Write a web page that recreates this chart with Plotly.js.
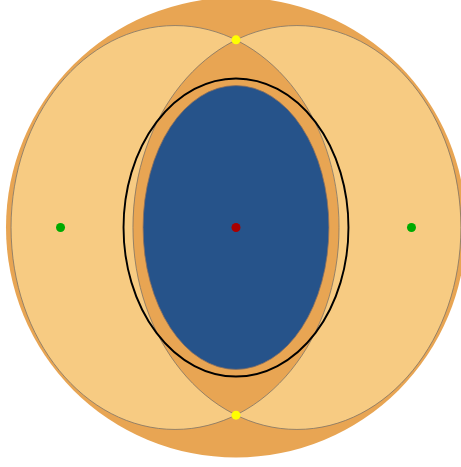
<!DOCTYPE html>
<html>
<head>
<meta charset="utf-8">
<script src="https://cdn.plot.ly/plotly-3.0.1.min.js"></script>
<style>html,body{margin:0;padding:0;background:#fff;}#chart{width:461px;height:467px;}</style>
</head>
<body>
<div id="chart"></div>
<script>
// Geometry readings (units: big circle radius = 1, origin at centre)
var outerCircle = {cx: 0, cy: 0, r: 1.0};
var lobeCentersX = [-0.265, 0.265];
var lobeCenterY = 0;
var lobeRadiusX = 0.713;
var lobeRadiusY = 0.878;
var ringEllipse = {cx: 0, cy: 0, rx: 0.489, ry: 0.648};
var coreEllipse = {cx: 0, cy: 0, rx: 0.404, ry: 0.617};

// Marked points
var greenX = [-0.763, 0.763];
var greenY = [0, 0];
var redX = [0];
var redY = [0];
var yellowX = [0, 0];
var yellowY = [0.816, -0.816];

var xRange = [-1.0261, 0.9783];
var yRange = [-1.0413, 0.9891];

function ellipsePath(cx, cy, rx, ry) {
  var k = 0.5523;
  function p(x, y) { return x.toFixed(5) + ',' + y.toFixed(5); }
  return 'M' + p(cx + rx, cy) +
    ' C' + p(cx + rx, cy + k * ry) + ' ' + p(cx + k * rx, cy + ry) + ' ' + p(cx, cy + ry) +
    ' C' + p(cx - k * rx, cy + ry) + ' ' + p(cx - rx, cy + k * ry) + ' ' + p(cx - rx, cy) +
    ' C' + p(cx - rx, cy - k * ry) + ' ' + p(cx - k * rx, cy - ry) + ' ' + p(cx, cy - ry) +
    ' C' + p(cx + k * rx, cy - ry) + ' ' + p(cx + rx, cy - k * ry) + ' ' + p(cx + rx, cy) + ' Z';
}

var lobesPath = lobeCentersX.map(function (cx) {
  return ellipsePath(cx, lobeCenterY, lobeRadiusX, lobeRadiusY);
}).join(' ');

var shapes = [
  {type: 'circle', xref: 'x', yref: 'y', layer: 'below',
   x0: outerCircle.cx - outerCircle.r, x1: outerCircle.cx + outerCircle.r,
   y0: outerCircle.cy - outerCircle.r, y1: outerCircle.cy + outerCircle.r,
   fillcolor: '#E8A553', line: {width: 0}},
  {type: 'path', xref: 'x', yref: 'y', layer: 'below', path: lobesPath,
   fillrule: 'evenodd', fillcolor: '#F7CB82', line: {color: '#7f7466', width: 0.8}},
  {type: 'circle', xref: 'x', yref: 'y', layer: 'below',
   x0: coreEllipse.cx - coreEllipse.rx, x1: coreEllipse.cx + coreEllipse.rx,
   y0: coreEllipse.cy - coreEllipse.ry, y1: coreEllipse.cy + coreEllipse.ry,
   fillcolor: '#26538A', line: {color: '#8a7060', width: 0.8}},
  {type: 'circle', xref: 'x', yref: 'y', layer: 'below',
   x0: ringEllipse.cx - ringEllipse.rx, x1: ringEllipse.cx + ringEllipse.rx,
   y0: ringEllipse.cy - ringEllipse.ry, y1: ringEllipse.cy + ringEllipse.ry,
   fillcolor: 'rgba(0,0,0,0)', line: {color: '#000000', width: 1.9}}
];

var traces = [
  {x: greenX, y: greenY, type: 'scatter', mode: 'markers',
   marker: {color: '#00AA00', size: 9}, hoverinfo: 'skip'},
  {x: redX, y: redY, type: 'scatter', mode: 'markers',
   marker: {color: '#AA0000', size: 9}, hoverinfo: 'skip'},
  {x: yellowX, y: yellowY, type: 'scatter', mode: 'markers',
   marker: {color: '#FFFF00', size: 9}, hoverinfo: 'skip'}
];

var layout = {
  width: 461, height: 467,
  margin: {l: 0, r: 0, t: 0, b: 0, pad: 0},
  paper_bgcolor: '#ffffff', plot_bgcolor: '#ffffff',
  showlegend: false,
  xaxis: {range: xRange, visible: false, fixedrange: true},
  yaxis: {range: yRange, visible: false, fixedrange: true},
  shapes: shapes
};

Plotly.newPlot('chart', traces, layout, {staticPlot: true, displayModeBar: false});
</script>
</body>
</html>
